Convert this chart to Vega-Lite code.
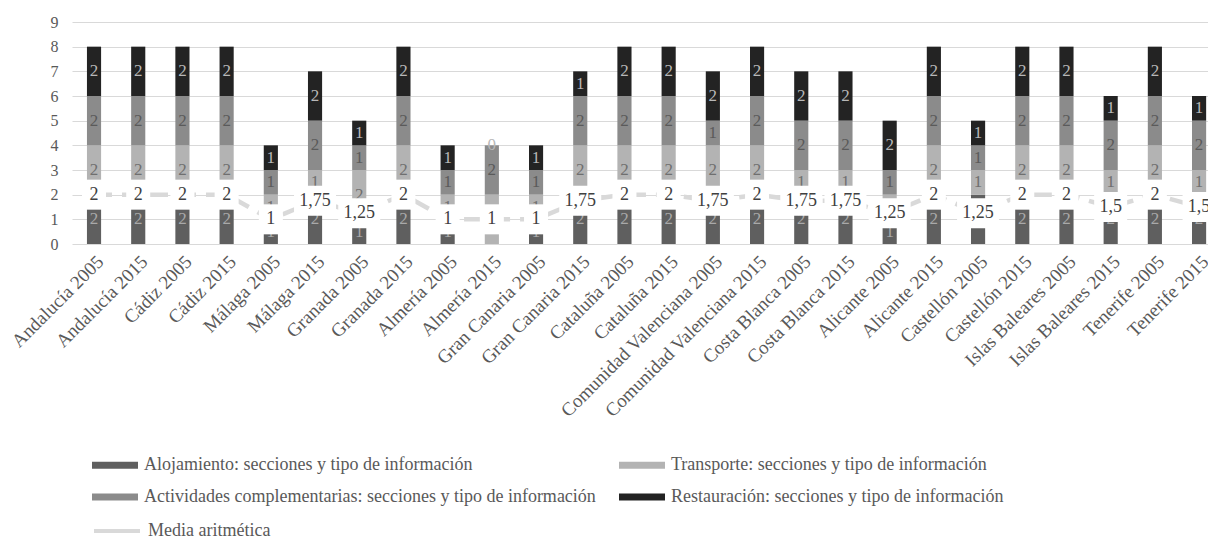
{
  "$schema": "https://vega.github.io/schema/vega-lite/v6.json",
  "width": 1136,
  "height": 222,
  "autosize": {"type": "none"},
  "padding": {"left": 72, "top": 22, "right": 0, "bottom": 301},
  "background": "white",
  "config": {
    "view": {"stroke": null},
    "font": "Liberation Serif",
    "axis": {"labelFont": "Liberation Serif", "labelColor": "#595959", "labelFontSize": 16}
  },
  "data": {
    "values": [
      {"destino": "Andalucía 2005", "Alojamiento: secciones y tipo de información": 2, "Transporte: secciones y tipo de información": 2, "Actividades complementarias: secciones y tipo de información": 2, "Restauración: secciones y tipo de información": 2, "Media aritmética": 2},
      {"destino": "Andalucía 2015", "Alojamiento: secciones y tipo de información": 2, "Transporte: secciones y tipo de información": 2, "Actividades complementarias: secciones y tipo de información": 2, "Restauración: secciones y tipo de información": 2, "Media aritmética": 2},
      {"destino": "Cádiz 2005", "Alojamiento: secciones y tipo de información": 2, "Transporte: secciones y tipo de información": 2, "Actividades complementarias: secciones y tipo de información": 2, "Restauración: secciones y tipo de información": 2, "Media aritmética": 2},
      {"destino": "Cádiz 2015", "Alojamiento: secciones y tipo de información": 2, "Transporte: secciones y tipo de información": 2, "Actividades complementarias: secciones y tipo de información": 2, "Restauración: secciones y tipo de información": 2, "Media aritmética": 2},
      {"destino": "Málaga 2005", "Alojamiento: secciones y tipo de información": 1, "Transporte: secciones y tipo de información": 1, "Actividades complementarias: secciones y tipo de información": 1, "Restauración: secciones y tipo de información": 1, "Media aritmética": 1},
      {"destino": "Málaga 2015", "Alojamiento: secciones y tipo de información": 2, "Transporte: secciones y tipo de información": 1, "Actividades complementarias: secciones y tipo de información": 2, "Restauración: secciones y tipo de información": 2, "Media aritmética": 1.75},
      {"destino": "Granada 2005", "Alojamiento: secciones y tipo de información": 1, "Transporte: secciones y tipo de información": 2, "Actividades complementarias: secciones y tipo de información": 1, "Restauración: secciones y tipo de información": 1, "Media aritmética": 1.25},
      {"destino": "Granada 2015", "Alojamiento: secciones y tipo de información": 2, "Transporte: secciones y tipo de información": 2, "Actividades complementarias: secciones y tipo de información": 2, "Restauración: secciones y tipo de información": 2, "Media aritmética": 2},
      {"destino": "Almería 2005", "Alojamiento: secciones y tipo de información": 1, "Transporte: secciones y tipo de información": 1, "Actividades complementarias: secciones y tipo de información": 1, "Restauración: secciones y tipo de información": 1, "Media aritmética": 1},
      {"destino": "Almería 2015", "Alojamiento: secciones y tipo de información": 0, "Transporte: secciones y tipo de información": 2, "Actividades complementarias: secciones y tipo de información": 2, "Restauración: secciones y tipo de información": 0, "Media aritmética": 1},
      {"destino": "Gran Canaria 2005", "Alojamiento: secciones y tipo de información": 1, "Transporte: secciones y tipo de información": 1, "Actividades complementarias: secciones y tipo de información": 1, "Restauración: secciones y tipo de información": 1, "Media aritmética": 1},
      {"destino": "Gran Canaria 2015", "Alojamiento: secciones y tipo de información": 2, "Transporte: secciones y tipo de información": 2, "Actividades complementarias: secciones y tipo de información": 2, "Restauración: secciones y tipo de información": 1, "Media aritmética": 1.75},
      {"destino": "Cataluña 2005", "Alojamiento: secciones y tipo de información": 2, "Transporte: secciones y tipo de información": 2, "Actividades complementarias: secciones y tipo de información": 2, "Restauración: secciones y tipo de información": 2, "Media aritmética": 2},
      {"destino": "Cataluña 2015", "Alojamiento: secciones y tipo de información": 2, "Transporte: secciones y tipo de información": 2, "Actividades complementarias: secciones y tipo de información": 2, "Restauración: secciones y tipo de información": 2, "Media aritmética": 2},
      {"destino": "Comunidad Valenciana 2005", "Alojamiento: secciones y tipo de información": 2, "Transporte: secciones y tipo de información": 2, "Actividades complementarias: secciones y tipo de información": 1, "Restauración: secciones y tipo de información": 2, "Media aritmética": 1.75},
      {"destino": "Comunidad Valenciana 2015", "Alojamiento: secciones y tipo de información": 2, "Transporte: secciones y tipo de información": 2, "Actividades complementarias: secciones y tipo de información": 2, "Restauración: secciones y tipo de información": 2, "Media aritmética": 2},
      {"destino": "Costa Blanca 2005", "Alojamiento: secciones y tipo de información": 2, "Transporte: secciones y tipo de información": 1, "Actividades complementarias: secciones y tipo de información": 2, "Restauración: secciones y tipo de información": 2, "Media aritmética": 1.75},
      {"destino": "Costa Blanca 2015", "Alojamiento: secciones y tipo de información": 2, "Transporte: secciones y tipo de información": 1, "Actividades complementarias: secciones y tipo de información": 2, "Restauración: secciones y tipo de información": 2, "Media aritmética": 1.75},
      {"destino": "Alicante 2005", "Alojamiento: secciones y tipo de información": 1, "Transporte: secciones y tipo de información": 1, "Actividades complementarias: secciones y tipo de información": 1, "Restauración: secciones y tipo de información": 2, "Media aritmética": 1.25},
      {"destino": "Alicante 2015", "Alojamiento: secciones y tipo de información": 2, "Transporte: secciones y tipo de información": 2, "Actividades complementarias: secciones y tipo de información": 2, "Restauración: secciones y tipo de información": 2, "Media aritmética": 2},
      {"destino": "Castellón 2005", "Alojamiento: secciones y tipo de información": 2, "Transporte: secciones y tipo de información": 1, "Actividades complementarias: secciones y tipo de información": 1, "Restauración: secciones y tipo de información": 1, "Media aritmética": 1.25},
      {"destino": "Castellón 2015", "Alojamiento: secciones y tipo de información": 2, "Transporte: secciones y tipo de información": 2, "Actividades complementarias: secciones y tipo de información": 2, "Restauración: secciones y tipo de información": 2, "Media aritmética": 2},
      {"destino": "Islas Baleares 2005", "Alojamiento: secciones y tipo de información": 2, "Transporte: secciones y tipo de información": 2, "Actividades complementarias: secciones y tipo de información": 2, "Restauración: secciones y tipo de información": 2, "Media aritmética": 2},
      {"destino": "Islas Baleares 2015", "Alojamiento: secciones y tipo de información": 2, "Transporte: secciones y tipo de información": 1, "Actividades complementarias: secciones y tipo de información": 2, "Restauración: secciones y tipo de información": 1, "Media aritmética": 1.5},
      {"destino": "Tenerife 2005", "Alojamiento: secciones y tipo de información": 2, "Transporte: secciones y tipo de información": 2, "Actividades complementarias: secciones y tipo de información": 2, "Restauración: secciones y tipo de información": 2, "Media aritmética": 2},
      {"destino": "Tenerife 2015", "Alojamiento: secciones y tipo de información": 2, "Transporte: secciones y tipo de información": 1, "Actividades complementarias: secciones y tipo de información": 2, "Restauración: secciones y tipo de información": 1, "Media aritmética": 1.5}
    ]
  },
  "encoding": {
    "x": {
      "field": "destino",
      "type": "nominal",
      "sort": null,
      "scale": {"paddingInner": 0.68, "paddingOuter": 0.19, "align": 0.89},
      "axis": {"title": null, "labelAngle": -45, "domain": false, "ticks": false, "labelPadding": 8, "labelLimit": 400, "labelFontSize": 19}
    }
  },
  "layer": [
    {
      "transform": [
        {"fold": ["Alojamiento: secciones y tipo de información", "Transporte: secciones y tipo de información", "Actividades complementarias: secciones y tipo de información", "Restauración: secciones y tipo de información"], "as": ["serie", "valor"]},
        {"calculate": "indexof(['Alojamiento: secciones y tipo de información', 'Transporte: secciones y tipo de información', 'Actividades complementarias: secciones y tipo de información', 'Restauración: secciones y tipo de información'], datum.serie)", "as": "orden"},
        {"stack": "valor", "groupby": ["destino"], "sort": [{"field": "orden", "order": "ascending"}], "as": ["v0", "v1"]}
      ],
      "mark": {"type": "bar"},
      "encoding": {
        "y": {
          "field": "v1",
          "type": "quantitative",
          "scale": {"domain": [0, 9], "nice": false},
          "axis": {"title": null, "values": [0, 1, 2, 3, 4, 5, 6, 7, 8, 9], "grid": true, "gridColor": "#d9d9d9", "gridWidth": 1, "domain": false, "ticks": false, "labelPadding": 14, "format": "d"}
        },
        "y2": {"field": "v0"},
        "color": {
          "field": "serie",
          "type": "nominal",
          "scale": {
            "domain": ["Alojamiento: secciones y tipo de información", "Transporte: secciones y tipo de información", "Actividades complementarias: secciones y tipo de información", "Restauración: secciones y tipo de información"],
            "range": ["#5f5f5f", "#b3b3b3", "#8b8b8b", "#232323"]
          },
          "legend": {
            "title": null,
            "orient": "none",
            "legendX": 31.5,
            "legendY": 431.5,
            "direction": "horizontal",
            "columns": 2,
            "columnPadding": 22,
            "rowPadding": 11,
            "padding": 0,
            "labelFont": "Liberation Serif",
            "labelFontSize": 18,
            "labelColor": "#595959",
            "labelLimit": 1000,
            "labelOffset": 17.5,
            "symbolSize": 529,
            "symbolType": "M-2,-0.3H2V0.3H-2Z",
            "symbolStrokeWidth": 0
          }
        }
      }
    },
    {
      "transform": [
        {"fold": ["Alojamiento: secciones y tipo de información", "Transporte: secciones y tipo de información", "Actividades complementarias: secciones y tipo de información", "Restauración: secciones y tipo de información"], "as": ["serie", "valor"]},
        {"calculate": "indexof(['Alojamiento: secciones y tipo de información', 'Transporte: secciones y tipo de información', 'Actividades complementarias: secciones y tipo de información', 'Restauración: secciones y tipo de información'], datum.serie)", "as": "orden"},
        {"stack": "valor", "groupby": ["destino"], "sort": [{"field": "orden", "order": "ascending"}], "as": ["v0", "v1"]},
        {"calculate": "(datum.v0 + datum.v1) / 2", "as": "centro"},
        {"filter": "datum.valor > 0 || datum.serie === 'Restauración: secciones y tipo de información'"}
      ],
      "mark": {"type": "text", "font": "Liberation Serif", "fontSize": 17, "baseline": "middle", "align": "center"},
      "encoding": {
        "y": {
          "field": "centro",
          "type": "quantitative",
          "axis": {"title": null, "values": [0, 1, 2, 3, 4, 5, 6, 7, 8, 9], "grid": true, "gridColor": "#d9d9d9", "gridWidth": 1, "domain": false, "ticks": false, "labelPadding": 14, "format": "d"}
        },
        "text": {"field": "valor", "type": "quantitative", "format": "d"},
        "fill": {
          "field": "serie",
          "type": "nominal",
          "scale": {
            "domain": ["Alojamiento: secciones y tipo de información", "Transporte: secciones y tipo de información", "Actividades complementarias: secciones y tipo de información", "Restauración: secciones y tipo de información"],
            "range": ["#a9a9a9", "#6f6f6f", "#5a5a5a", "#b8b8b8"]
          },
          "legend": null
        }
      }
    },
    {
      "mark": {"type": "line", "strokeWidth": 4.5, "strokeDash": [18, 10], "strokeCap": "butt"},
      "encoding": {
        "y": {
          "field": "Media aritmética",
          "type": "quantitative",
          "axis": {"title": null, "values": [0, 1, 2, 3, 4, 5, 6, 7, 8, 9], "grid": true, "gridColor": "#d9d9d9", "gridWidth": 1, "domain": false, "ticks": false, "labelPadding": 14, "format": "d"}
        },
        "stroke": {
          "datum": "Media aritmética",
          "scale": {"domain": ["Media aritmética"], "range": ["#d9d9d9"]},
          "legend": {
            "title": null,
            "orient": "none",
            "legendX": 20,
            "legendY": 484,
            "padding": 0,
            "labelFont": "Liberation Serif",
            "labelFontSize": 18,
            "labelColor": "#595959",
            "labelOffset": 6,
            "symbolType": "stroke",
            "symbolSize": 2116,
            "symbolStrokeWidth": 4
          }
        }
      }
    },
    {
      "mark": {"type": "point", "filled": true, "fill": "white", "opacity": 1, "strokeWidth": 0, "size": 3600},
      "encoding": {
        "y": {
          "field": "Media aritmética",
          "type": "quantitative",
          "axis": {"title": null, "values": [0, 1, 2, 3, 4, 5, 6, 7, 8, 9], "grid": true, "gridColor": "#d9d9d9", "gridWidth": 1, "domain": false, "ticks": false, "labelPadding": 14, "format": "d"}
        },
        "shape": {
          "condition": [
            {"test": "datum['Media aritmética'] === 1 || datum['Media aritmética'] === 2", "value": "M-0.4,-0.5H0.4V0.5H-0.4Z"},
            {"test": "datum['Media aritmética'] === 1.5", "value": "M-0.55,-0.5H0.55V0.5H-0.55Z"}
          ],
          "value": "M-0.7,-0.5H0.7V0.5H-0.7Z"
        }
      }
    },
    {
      "transform": [
        {"calculate": "replace(format(datum['Media aritmética'], '~g'), '.', ',')", "as": "etiqueta"}
      ],
      "mark": {"type": "text", "font": "Liberation Serif", "fontSize": 18, "color": "#404040", "baseline": "middle", "align": "center"},
      "encoding": {
        "y": {
          "field": "Media aritmética",
          "type": "quantitative",
          "axis": {"title": null, "values": [0, 1, 2, 3, 4, 5, 6, 7, 8, 9], "grid": true, "gridColor": "#d9d9d9", "gridWidth": 1, "domain": false, "ticks": false, "labelPadding": 14, "format": "d"}
        },
        "text": {"field": "etiqueta", "type": "nominal"}
      }
    }
  ]
}
